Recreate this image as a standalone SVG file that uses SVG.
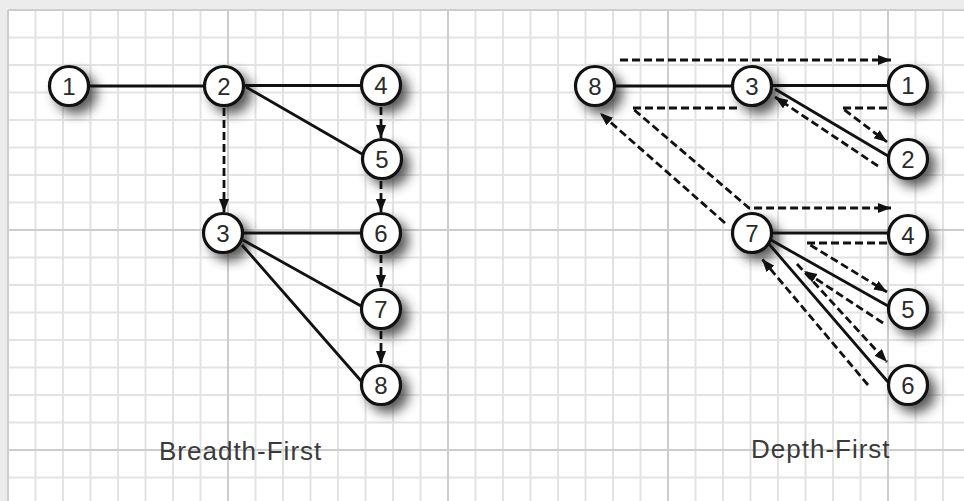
<svg xmlns="http://www.w3.org/2000/svg" width="964" height="501" viewBox="0 0 964 501">
<style>
.minor{stroke:#e3e3e3;stroke-width:2;fill:none}
.major{stroke:#cdcdcd;stroke-width:2;fill:none}
.nc{fill:#fff;stroke:#111;stroke-width:3.2}
.sh{fill:#333;opacity:0.8}
.nt{font-family:"Liberation Sans",Arial,sans-serif;font-size:24px;fill:#2a2a2a;text-anchor:middle}
.edge{stroke:#111;stroke-width:2.8;fill:none}
.dash{stroke:#111;stroke-width:2.8;fill:none;stroke-dasharray:8 4}
.lbl{font-family:"Liberation Sans",Arial,sans-serif;font-size:26px;fill:#3a3a3a;letter-spacing:1px}
</style>
<defs>
<filter id="blur" x="-80%" y="-80%" width="260%" height="260%"><feGaussianBlur stdDeviation="6"/></filter>
<marker id="ah" markerUnits="userSpaceOnUse" markerWidth="15" markerHeight="11" refX="13" refY="5" orient="auto"><path d="M0,0 L13,5 L0,10 z" fill="#111"/></marker>
</defs>
<rect width="964" height="501" fill="#ececec"/>
<rect x="8" y="10" width="956" height="491" fill="#fff"/>
<g id="grid">
<path class="minor" d="M35.5 10V501M63 10V501M90.5 10V501M118 10V501M145.5 10V501M173 10V501M200.5 10V501M255.5 10V501M283 10V501M310.5 10V501M338 10V501M365.5 10V501M393 10V501M420.5 10V501M475.5 10V501M503 10V501M530.5 10V501M558 10V501M585.5 10V501M613 10V501M640.5 10V501M695.5 10V501M723 10V501M750.5 10V501M778 10V501M805.5 10V501M833 10V501M860.5 10V501M915.5 10V501M943 10V501"/>
<path class="minor" d="M8 37.5H964M8 65H964M8 92.5H964M8 120H964M8 147.5H964M8 175H964M8 202.5H964M8 257.5H964M8 285H964M8 312.5H964M8 340H964M8 367.5H964M8 395H964M8 422.5H964M8 477.5H964"/>
<path class="major" d="M8 10V501M228 10V501M448 10V501M668 10V501M888 10V501M8 10H964M8 230H964M8 450H964"/>
</g>
<g id="n1"><circle class="sh" cx="76" cy="93" r="21" filter="url(#blur)"/><circle class="nc" cx="69" cy="86" r="19.5"/><text class="nt" x="69" y="94.5">1</text></g>
<g id="n2"><circle class="sh" cx="231" cy="93" r="21" filter="url(#blur)"/><circle class="nc" cx="224" cy="86" r="19.5"/><text class="nt" x="224" y="94.5">2</text></g>
<g id="n4"><circle class="sh" cx="388" cy="92" r="21" filter="url(#blur)"/><circle class="nc" cx="381" cy="85" r="19.5"/><text class="nt" x="381" y="93.5">4</text></g>
<g id="n5"><circle class="sh" cx="389" cy="166" r="21" filter="url(#blur)"/><circle class="nc" cx="382" cy="159" r="19.5"/><text class="nt" x="382" y="167.5">5</text></g>
<g id="n3"><circle class="sh" cx="230" cy="240" r="21" filter="url(#blur)"/><circle class="nc" cx="223" cy="233" r="19.5"/><text class="nt" x="223" y="241.5">3</text></g>
<g id="n6"><circle class="sh" cx="388" cy="240" r="21" filter="url(#blur)"/><circle class="nc" cx="381" cy="233" r="19.5"/><text class="nt" x="381" y="241.5">6</text></g>
<g id="n7"><circle class="sh" cx="388" cy="316" r="21" filter="url(#blur)"/><circle class="nc" cx="381" cy="309" r="19.5"/><text class="nt" x="381" y="317.5">7</text></g>
<g id="n8"><circle class="sh" cx="388" cy="392" r="21" filter="url(#blur)"/><circle class="nc" cx="381" cy="385" r="19.5"/><text class="nt" x="381" y="393.5">8</text></g>
<g id="d8"><circle class="sh" cx="602" cy="93" r="21" filter="url(#blur)"/><circle class="nc" cx="595" cy="86" r="19.5"/><text class="nt" x="595" y="94.5">8</text></g>
<g id="d3"><circle class="sh" cx="759" cy="93" r="21" filter="url(#blur)"/><circle class="nc" cx="752" cy="86" r="19.5"/><text class="nt" x="752" y="94.5">3</text></g>
<g id="d1"><circle class="sh" cx="915" cy="92" r="21" filter="url(#blur)"/><circle class="nc" cx="908" cy="85" r="19.5"/><text class="nt" x="908" y="93.5">1</text></g>
<g id="d2"><circle class="sh" cx="915" cy="166" r="21" filter="url(#blur)"/><circle class="nc" cx="908" cy="159" r="19.5"/><text class="nt" x="908" y="167.5">2</text></g>
<g id="d7"><circle class="sh" cx="759" cy="240" r="21" filter="url(#blur)"/><circle class="nc" cx="752" cy="233" r="19.5"/><text class="nt" x="752" y="241.5">7</text></g>
<g id="d4"><circle class="sh" cx="915" cy="242" r="21" filter="url(#blur)"/><circle class="nc" cx="908" cy="235" r="19.5"/><text class="nt" x="908" y="243.5">4</text></g>
<g id="d5"><circle class="sh" cx="915" cy="316" r="21" filter="url(#blur)"/><circle class="nc" cx="908" cy="309" r="19.5"/><text class="nt" x="908" y="317.5">5</text></g>
<g id="d6"><circle class="sh" cx="915" cy="392" r="21" filter="url(#blur)"/><circle class="nc" cx="908" cy="385" r="19.5"/><text class="nt" x="908" y="393.5">6</text></g>
<g id="connectors">
<path class="edge" d="M90 86H203"/>
<path class="edge" d="M245 85.5H360"/>
<path class="edge" d="M246 87L362 154"/>
<path class="edge" d="M244 233H360"/>
<path class="edge" d="M243 240L361 306"/>
<path class="edge" d="M242 245L362 382"/>
<path class="dash" d="M224 108V212" marker-end="url(#ah)"/>
<path class="dash" d="M381 107V138" marker-end="url(#ah)"/>
<path class="dash" d="M381 181V212" marker-end="url(#ah)"/>
<path class="dash" d="M381 255V288" marker-end="url(#ah)"/>
<path class="dash" d="M381 331V364" marker-end="url(#ah)"/>
<path class="edge" d="M616 86H731"/>
<path class="edge" d="M773 85.5H887"/>
<path class="edge" d="M775 89L888 156"/>
<path class="edge" d="M773 233H887"/>
<path class="edge" d="M771 240L888 306"/>
<path class="edge" d="M769 244L888 382"/>
<path class="dash" d="M620 60H891" marker-end="url(#ah)"/>
<path class="dash" d="M887 108H842L887 142" marker-end="url(#ah)"/>
<path class="dash" d="M878 166L775 97" marker-end="url(#ah)"/>
<path class="dash" d="M737 108H632L749 208H891" marker-end="url(#ah)"/>
<path class="dash" d="M887 243H807L887 292" marker-end="url(#ah)"/>
<path class="dash" d="M883 323L804 271" marker-end="url(#ah)"/>
<path class="dash" d="M797 264L887 362" marker-end="url(#ah)"/>
<path class="dash" d="M868 385L762 259" marker-end="url(#ah)"/>
<path class="dash" d="M725 223L600 113" marker-end="url(#ah)"/>
</g>
<text class="lbl" x="159" y="460">Breadth-First</text>
<text class="lbl" x="751" y="458">Depth-First</text>
</svg>
